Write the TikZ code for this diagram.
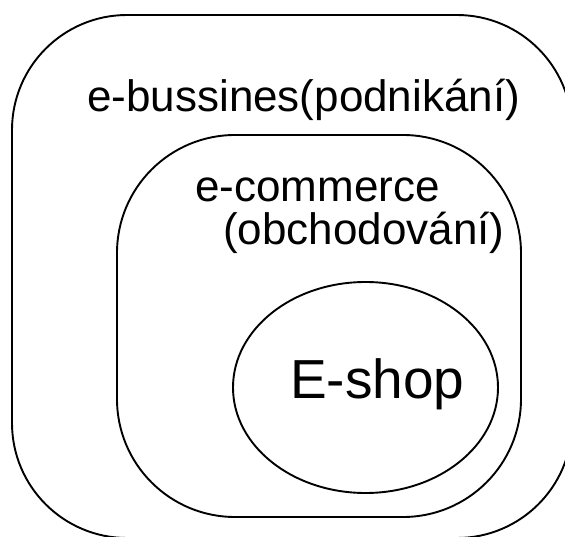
\documentclass[tikz,border=0pt]{standalone}
\usepackage{fontspec}
\setmainfont{Liberation Sans}
\usetikzlibrary{shapes.geometric}
\tikzset{
  frame/.style={draw=black, line width=1.9pt, rounded corners=#1, inner sep=0pt, outer sep=0pt},
  label/.style={anchor=base west, inner sep=0pt, font=\fontsize{44}{44}\selectfont},
  biglabel/.style={anchor=base west, inner sep=0pt, font=\fontsize{55}{55}\selectfont},
}
\begin{document}
\begin{tikzpicture}[x=1pt, y=-1pt]
  \useasboundingbox (0,0) rectangle (565,537);
  % outer frame: e-business (extends past the page edge on the right and bottom)
  \node[frame=115pt, minimum width=560pt, minimum height=523pt] (business) at (292,276.5) {};
  % middle frame: e-commerce
  \node[frame=118pt, minimum width=404pt, minimum height=382pt] (commerce) at (319,326) {};
  % inner ellipse: e-shop
  \node[draw=black, line width=1.9pt, ellipse, inner sep=0pt, outer sep=0pt,
        minimum width=265pt, minimum height=211pt] (shop) at (365.5,387.5) {};
  % labels
  \node[label] (tbusiness) at (87,112) {e-bussines(podnikání)};
  \node[label] (tcommerce) at (195,202) {e-commerce};
  \node[label] (tcommerce2) at (223,245) {(obchodování)};
  \node[biglabel] (tshop) at (290,398) {E-shop};
\end{tikzpicture}
\end{document}
